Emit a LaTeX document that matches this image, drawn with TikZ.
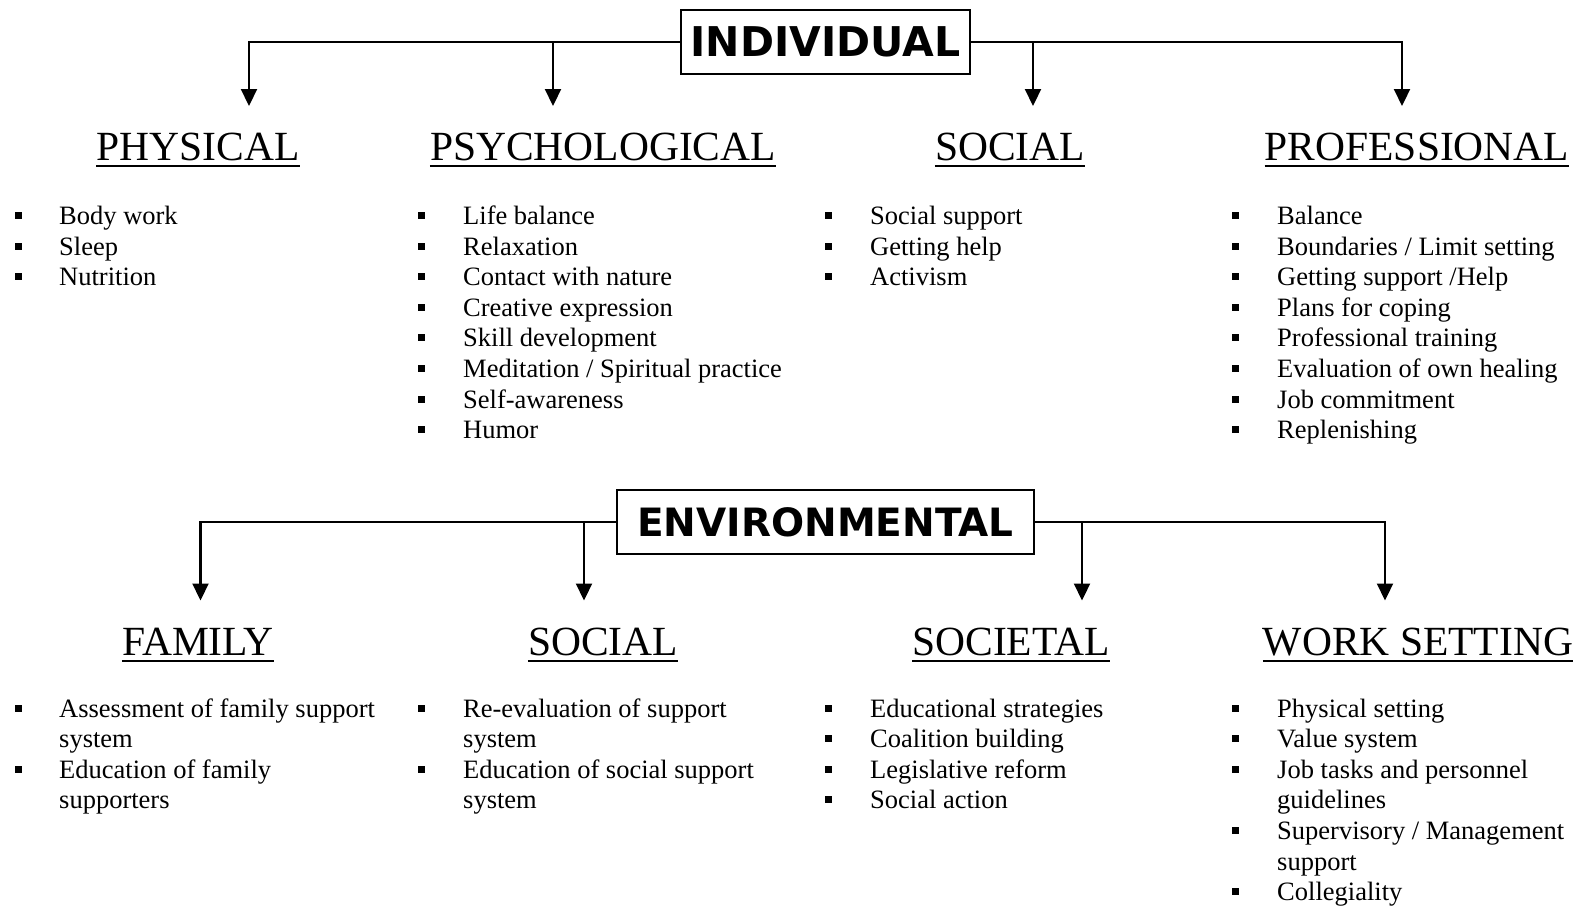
\documentclass[tikz,border=0pt]{standalone}
\usepackage{fontspec}
\setmainfont{Liberation Serif}
\newfontfamily\boxfont{DejaVu Sans}
\usetikzlibrary{arrows.meta,positioning}
\tikzstyle{title box}=[draw,line width=2.4pt,minimum height=64pt,inner sep=0pt,font=\boxfont\bfseries\fontsize{39}{45}\selectfont]
\tikzstyle{heading}=[inner sep=0pt,anchor=base,font=\fontsize{41.5}{48}\selectfont]
\tikzstyle{uline}=[line width=2.4pt]
\tikzstyle{item text}=[inner sep=0pt,anchor=base west,font=\fontsize{26.5}{30.6}\selectfont]
\tikzstyle{sq bullet}=[fill=black,inner sep=0pt,minimum size=7pt]
\tikzstyle{arrow}=[line width=2.2pt,-{Triangle[length=17pt,width=16pt]}]

% #1 name, #2 bullet x, #3 text x, #4 first baseline, #5 list of flag/text
\newcommand{\itemlist}[5]{%
  \foreach \b/\t [count=\i] in {#5} {
    \node[item text] (#1-\i) at (#3,{#4+(\i-1)*30.6}) {\t};
    \ifnum\b=1
      \node[sq bullet] (#1-b\i) at (#2,{#4+(\i-1)*30.6-9}) {};
    \fi
  }}

\begin{document}
\begin{tikzpicture}[x=1pt,y=-1pt]
\useasboundingbox (0,0) rectangle (1588,908);

\node[title box,minimum width=289pt,font=\boxfont\bfseries\fontsize{41}{47}\selectfont] (indiv) at (825.5,42) {INDIVIDUAL};
\node[title box,minimum width=417pt] (envir) at (825.5,522) {ENVIRONMENTAL};

\node[heading] (phys) at (198,160) {PHYSICAL};
\node[heading] (psych) at (603,160) {PSYCHOLOGICAL};
\node[heading] (soc) at (1010,160) {SOCIAL};
\node[heading] (prof) at (1417,160) {PROFESSIONAL};
\node[heading] (fam) at (198,655) {FAMILY};
\node[heading] (esoc) at (603,655) {SOCIAL};
\node[heading] (socl) at (1011,655) {SOCIETAL};
\node[heading] (work) at (1418,655) {WORK SETTING};
\foreach \n in {phys,psych,soc,prof,fam,esoc,socl,work}
  \draw[uline] ([yshift=-6pt]\n.base west) -- ([yshift=-6pt]\n.base east);

\coordinate (a1) at (249,106);
\coordinate (a2) at (553,106);
\coordinate (a3) at (1033,106);
\coordinate (a4) at (1402,106);
\draw[arrow] (indiv.west) -| (a1);
\draw[arrow] (a2 |- indiv.west) -- (a2);
\draw[arrow] (indiv.east) -| (a4);
\draw[arrow] (a3 |- indiv.east) -- (a3);

\coordinate (b1) at (200.5,600.5);
\coordinate (b2) at (584,600.5);
\coordinate (b3) at (1082,600.5);
\coordinate (b4) at (1385,600.5);
\draw[arrow] (envir.west) -| (b1);
\draw[arrow] (b2 |- envir.west) -- (b2);
\draw[arrow] (envir.east) -| (b4);
\draw[arrow] (b3 |- envir.east) -- (b3);

\itemlist{physl}{18.5}{59}{224.5}{1/Body work, 1/Sleep, 1/Nutrition}
\itemlist{psychl}{421}{463}{224.5}{1/Life balance, 1/Relaxation, 1/Contact with nature,
  1/Creative expression, 1/Skill development, 1/{Meditation / Spiritual practice},
  1/Self-awareness, 1/Humor}
\itemlist{socl}{828}{870}{224.5}{1/Social support, 1/Getting help, 1/Activism}
\itemlist{profl}{1235}{1277}{224.5}{1/Balance, 1/{Boundaries / Limit setting},
  1/{Getting support /Help}, 1/Plans for coping, 1/Professional training,
  1/Evaluation of own healing, 1/Job commitment, 1/Replenishing}

\itemlist{faml}{18.5}{59}{717}{1/Assessment of family support, 0/system,
  1/Education of family, 0/supporters}
\itemlist{esocl}{421}{463}{717}{1/Re-evaluation of support, 0/system,
  1/Education of social support, 0/system}
\itemlist{soctl}{828}{870}{717}{1/Educational strategies, 1/Coalition building,
  1/Legislative reform, 1/Social action}
\itemlist{workl}{1235}{1277}{717}{1/Physical setting, 1/Value system,
  1/Job tasks and personnel, 0/guidelines, 1/{Supervisory / Management},
  0/support, 1/Collegiality}
\end{tikzpicture}
\end{document}
